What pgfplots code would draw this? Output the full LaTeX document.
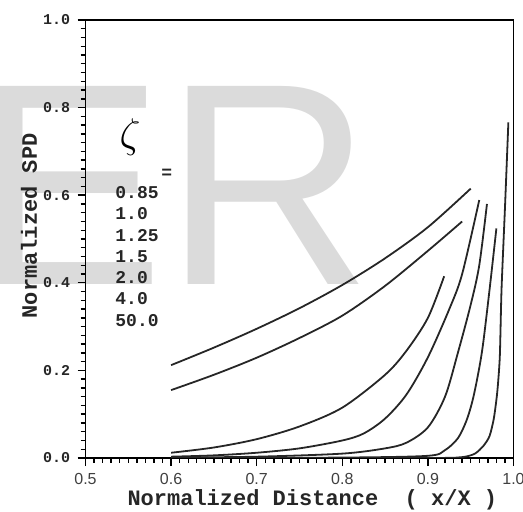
\documentclass[border=0pt]{standalone}
\usepackage{fontspec}
\setmainfont{Liberation Sans}
\newfontfamily\mono{Liberation Mono}
\usepackage{pgfplots}
\pgfplotsset{compat=1.18}
\pgfplotsset{spdcurve/.style={no marks, smooth, tension=0.5, line width=0.9pt, color=black!85, solid}}
\tikzset{zl/.style={anchor=west, inner sep=0pt, font=\mono\bfseries\fontsize{9}{10}\selectfont, text=black!85}}
\begin{document}
\begin{tikzpicture}
\useasboundingbox (-42.75pt,-27pt) rectangle (218.75pt,229pt);
\node[anchor=base west, inner sep=0, text=black!14, font=\fontsize{144}{144}\selectfont] at (-56.75pt,86.5pt) {ER};
\begin{axis}[
  scale only axis, width=214pt, height=219pt,
  xmin=0.5, xmax=1.0, ymin=0, ymax=1,
  every axis/.append style={line width=0.8pt},
  xtick={0.5,0.6,0.7,0.8,0.9,1.0},
  xticklabels={0.5,0.6,0.7,0.8,0.9,1.0},
  ytick={0,0.2,0.4,0.6,0.8,1.0},
  yticklabels={0.0,0.2,0.4,0.6,0.8,1.0},
  minor x tick num=9, minor y tick num=9,
  tick align=outside, tick pos=left,
  major tick length=4pt, minor tick length=2.5pt,
  tick style={black, line width=0.7pt},
  xticklabel style={font=\fontsize{8}{9}\selectfont, text=black!75},
  yticklabel style={font=\mono\bfseries\fontsize{7.5}{8}\selectfont, text=black!85},
  xlabel={Normalized Distance\ \ ( x/X )},
  ylabel={Normalized SPD},
  xlabel style={at={(axis description cs:0.53,-0.096)}, anchor=center, font=\mono\bfseries\fontsize{11}{12}\selectfont, text=black!85},
  ylabel style={at={(axis description cs:-0.132,0.53)}, anchor=center, font=\mono\bfseries\fontsize{11}{12}\selectfont, text=black!85},
]
% zeta = 0.85
\addplot[spdcurve] coordinates {(0.6,0.212) (0.65,0.252) (0.7,0.295) (0.75,0.342) (0.8,0.395) (0.85,0.456) (0.9,0.527) (0.95,0.615)};
% 1.0
\addplot[spdcurve] coordinates {(0.6,0.155) (0.65,0.19) (0.7,0.229) (0.75,0.274) (0.8,0.325) (0.85,0.393) (0.9,0.473) (0.94,0.540)};
% 1.25
\addplot[spdcurve] coordinates {(0.6,0.012) (0.65,0.024) (0.7,0.043) (0.75,0.072) (0.8,0.115) (0.85,0.19) (0.875,0.245) (0.9,0.32) (0.919,0.415)};
% 1.5
\addplot[spdcurve] coordinates {(0.6,0.003) (0.65,0.006) (0.7,0.012) (0.75,0.022) (0.8,0.04) (0.825,0.056) (0.85,0.09) (0.875,0.145) (0.9,0.23) (0.925,0.34) (0.94,0.42) (0.96,0.589)};
% 2.0
\addplot[spdcurve] coordinates {(0.6,0.001) (0.7,0.003) (0.8,0.01) (0.85,0.022) (0.875,0.035) (0.9,0.07) (0.92,0.14) (0.935,0.24) (0.95,0.35) (0.96,0.44) (0.969,0.58)};
% 4.0
\addplot[spdcurve] coordinates {(0.6,0) (0.8,0.001) (0.9,0.005) (0.92,0.018) (0.935,0.045) (0.945,0.085) (0.952,0.13) (0.958,0.185) (0.964,0.254) (0.972,0.384) (0.98,0.524)};
% 50.0
\addplot[spdcurve, tension=0.4] coordinates {(0.6,0) (0.9,0) (0.94,0.002) (0.955,0.01) (0.965,0.028) (0.972,0.05) (0.977,0.09) (0.981,0.15) (0.984,0.231) (0.986,0.384) (0.99,0.57) (0.994,0.766)};
\node at (axis cs:0.552,0.733) {\fontsize{22}{22}\selectfont$\zeta$};
\node[font=\mono\bfseries\fontsize{9}{10}\selectfont, text=black!85] at (axis cs:0.595,0.648) {=};
\node[zl] at (axis cs:0.534,0.605) {0.85};
\node[zl] at (axis cs:0.534,0.557) {1.0};
\node[zl] at (axis cs:0.534,0.508) {1.25};
\node[zl] at (axis cs:0.534,0.460) {1.5};
\node[zl] at (axis cs:0.534,0.411) {2.0};
\node[zl] at (axis cs:0.534,0.363) {4.0};
\node[zl] at (axis cs:0.534,0.314) {50.0};
\end{axis}
\end{tikzpicture}
\end{document}
